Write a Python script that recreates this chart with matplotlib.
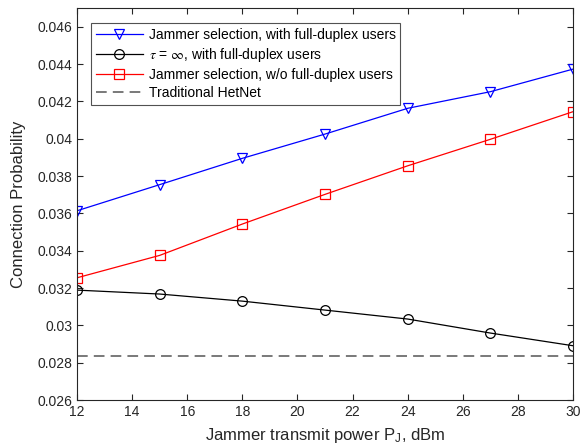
import matplotlib
matplotlib.use("Agg")
import matplotlib.pyplot as plt

plt.rcParams["font.family"] = ["Liberation Sans", "DejaVu Sans"]
plt.rcParams["mathtext.fontset"] = "stix"

power_dbm = [12, 15, 18, 21, 24, 27, 30]
jammer_fd = [0.03614, 0.03754, 0.03895, 0.04025, 0.04163, 0.04252, 0.04373]
tau_inf_fd = [0.03189, 0.03168, 0.03130, 0.03082, 0.03034, 0.02959, 0.02891]
jammer_no_fd = [0.03255, 0.03375, 0.03543, 0.03702, 0.03855, 0.03997, 0.04145]
traditional = 0.02838

fig = plt.figure(figsize=(5.85, 4.48), dpi=100)
ax = fig.add_axes([0.1316, 0.107, 0.848, 0.875])

ax.plot(power_dbm, jammer_fd, color="blue", lw=0.9, marker="v", ms=7.5, mfc="none", mew=0.9,
        label="Jammer selection, with full-duplex users")
ax.plot(power_dbm, tau_inf_fd, color="black", lw=0.9, marker="o", ms=7, mfc="none", mew=0.9,
        label=r"$\tau$ = $\infty$, with full-duplex users")
ax.plot(power_dbm, jammer_no_fd, color="red", lw=0.9, marker="s", ms=6.5, mfc="none", mew=0.9,
        label="Jammer selection, w/o full-duplex users")
ax.plot([power_dbm[0], power_dbm[-1]], [traditional, traditional], color="#555555", lw=1.1,
        ls=(0, (7, 4)), label="Traditional HetNet")

ax.set_xlim(12, 30)
ax.set_ylim(0.026, 0.047)
ax.set_xticks(range(12, 31, 2))
ax.set_yticks([0.026, 0.028, 0.03, 0.032, 0.034, 0.036, 0.038, 0.04, 0.042, 0.044, 0.046])
ax.set_yticklabels(["0.026", "0.028", "0.03", "0.032", "0.034", "0.036", "0.038",
                    "0.04", "0.042", "0.044", "0.046"])
ax.tick_params(direction="in", top=True, right=True, labelsize=10, colors="#262626",
               length=4, width=0.8)
for s in ax.spines.values():
    s.set_color("#262626")
    s.set_linewidth(0.8)

ax.set_xlabel(r"Jammer transmit power P$_\mathregular{J}$, dBm", fontsize=12, color="#262626", labelpad=5)
ax.set_ylabel("Connection Probability", fontsize=12, color="#262626", labelpad=8)

leg = ax.legend(loc="upper left", bbox_to_anchor=(0.028, 0.9625), fontsize=10, frameon=True,
                fancybox=False, edgecolor="#262626", handlelength=3.4, borderpad=0.35,
                labelspacing=0.3, handletextpad=0.4, borderaxespad=0)
leg.get_frame().set_linewidth(0.8)

fig.savefig("out.png", dpi=100, facecolor="white")
